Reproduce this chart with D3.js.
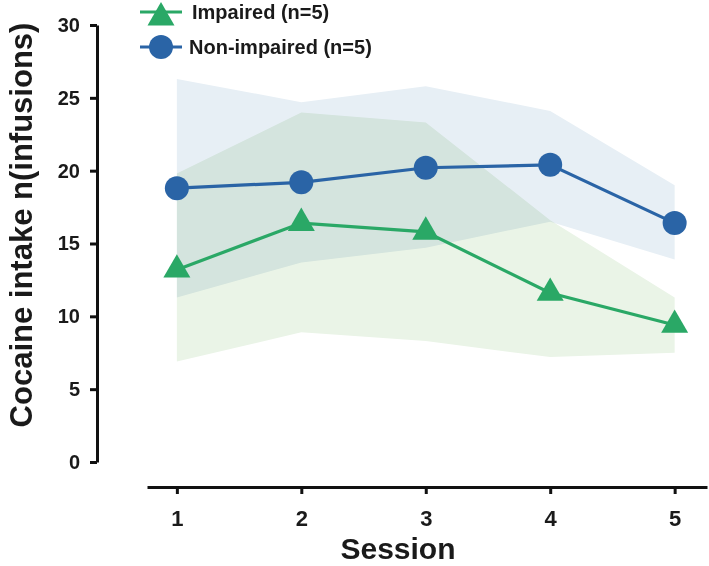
<!DOCTYPE html>
<html>
<head>
<meta charset="utf-8">
<script src="https://cdn.jsdelivr.net/npm/d3@7"></script>
<style>
  body { margin: 0; background: #fff; }
  svg { display: block; font-family: "Liberation Sans", Arial, sans-serif; font-weight: bold; }
</style>
</head>
<body>
<script>
// ---- data ----
const sessions = [1, 2, 3, 4, 5];
const impairedMean  = [13.2, 16.4, 15.8, 11.6, 9.4];
const impairedUpper = [19.8, 24.0, 23.3, 16.6, 11.3];
const impairedLower = [6.9, 8.9, 8.3, 7.2, 7.5];
const nonImpairedMean  = [18.8, 19.2, 20.2, 20.4, 16.4];
const nonImpairedUpper = [26.3, 24.7, 25.8, 24.1, 19.0];
const nonImpairedLower = [11.3, 13.7, 14.7, 16.5, 13.9];
const yTicks = [0, 5, 10, 15, 20, 25, 30];
const seriesNames = ["Impaired (n=5)", "Non-impaired (n=5)"];

const W = 709, H = 566;
const blue = "#2a64a6", green = "#2aa866";
const blueBand = "#e7eff5", greenBand = "#eaf4e7";

const svg = d3.select("body").append("svg").attr("width", W).attr("height", H);

const x = d3.scaleLinear().domain([0.76, 5.26]).range([147, 707]);
const y = d3.scaleLinear().domain([0, 30]).range([462, 25]);

const rows = (m, lo, hi) => sessions.map((s, i) => ({ s, m: m[i], lo: lo[i], hi: hi[i] }));
const imp = rows(impairedMean, impairedLower, impairedUpper);
const non = rows(nonImpairedMean, nonImpairedLower, nonImpairedUpper);

const area = d3.area().x(d => x(d.s)).y0(d => y(d.lo)).y1(d => y(d.hi));
const line = d3.line().x(d => x(d.s)).y(d => y(d.m));

// bands
svg.append("path").datum(non).attr("d", area).attr("fill", blueBand);
svg.append("path").datum(imp).attr("d", area).attr("fill", greenBand)
  .style("mix-blend-mode", "multiply");

// triangle symbol (centroid at origin), side 27
const side = 27, th = side * Math.sqrt(3) / 2;
const triPath = `M0,${-2 * th / 3}L${side / 2},${th / 3}L${-side / 2},${th / 3}Z`;

// lines
svg.append("path").datum(imp).attr("d", line).attr("fill", "none")
  .attr("stroke", green).attr("stroke-width", 3.2);
svg.append("path").datum(non).attr("d", line).attr("fill", "none")
  .attr("stroke", blue).attr("stroke-width", 3.2);

// markers
svg.selectAll(".tri").data(imp).join("path").attr("class", "tri")
  .attr("d", triPath).attr("fill", green)
  .attr("transform", d => `translate(${x(d.s)},${y(d.m)})`);
svg.selectAll(".cir").data(non).join("circle").attr("class", "cir")
  .attr("cx", d => x(d.s)).attr("cy", d => y(d.m)).attr("r", 12).attr("fill", blue);

// axes
const xAxis = d3.axisBottom(x).tickValues(sessions).tickFormat(d3.format("d"))
  .tickSize(7).tickSizeOuter(0).tickPadding(16);
const gx = svg.append("g").attr("transform", "translate(0,487)").call(xAxis);
const yAxis = d3.axisLeft(y).tickValues(yTicks).tickSize(7).tickSizeOuter(0).tickPadding(10);
const gy = svg.append("g").attr("transform", "translate(97,0)").call(yAxis);

[gx, gy].forEach(g => {
  g.select(".domain").attr("stroke", "#111").attr("stroke-width", 3);
  g.selectAll(".tick line").attr("stroke", "#111").attr("stroke-width", 3);
  g.selectAll(".tick text").attr("fill", "#1a1a1a")
    .style("font-family", '"Liberation Sans", Arial, sans-serif').style("font-weight", "bold");
});
gx.selectAll(".tick text").style("font-size", "22px");
gy.selectAll(".tick text").style("font-size", "20px");

// axis titles
svg.append("text").attr("x", 398).attr("y", 559).attr("text-anchor", "middle")
  .style("font-size", "30px").attr("fill", "#1a1a1a").text("Session");
svg.append("text").attr("transform", "translate(32,225) rotate(-90)").attr("text-anchor", "middle")
  .style("font-size", "31px").attr("fill", "#1a1a1a").text("Cocaine intake n(infusions)");

// legend
const lg = svg.append("g");
lg.append("line").attr("x1", 140).attr("x2", 182).attr("y1", 12).attr("y2", 12)
  .attr("stroke", green).attr("stroke-width", 3.2);
lg.append("path").attr("d", triPath).attr("fill", green)
  .attr("transform", `translate(161,${2 + 2 * th / 3})`);
lg.append("text").attr("x", 192).attr("y", 19).style("font-size", "20px")
  .attr("fill", "#1a1a1a").text(seriesNames[0]);
lg.append("line").attr("x1", 140).attr("x2", 182).attr("y1", 47).attr("y2", 47)
  .attr("stroke", blue).attr("stroke-width", 3.2);
lg.append("circle").attr("cx", 161).attr("cy", 47).attr("r", 12).attr("fill", blue);
lg.append("text").attr("x", 189).attr("y", 54).style("font-size", "20px")
  .attr("fill", "#1a1a1a").text(seriesNames[1]);
</script>
</body>
</html>
